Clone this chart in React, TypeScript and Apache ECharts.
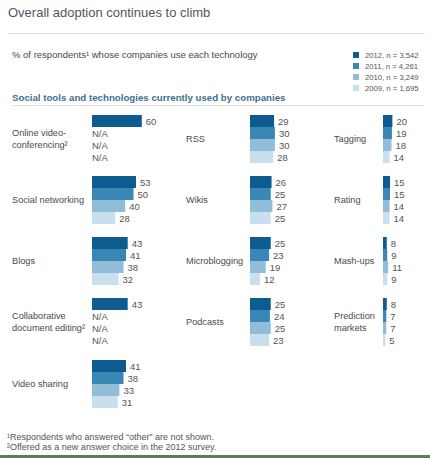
import React, { useEffect, useRef } from "react";
import * as echarts from "echarts";

// Technologies, in reading order (column by column)
const technologies = [
  "Online video-\nconferencing²",
  "Social networking",
  "Blogs",
  "Collaborative\ndocument editing²",
  "Video sharing",
  "RSS",
  "Wikis",
  "Microblogging",
  "Podcasts",
  "Tagging",
  "Rating",
  "Mash-ups",
  "Prediction\nmarkets",
];

const years = ["2012", "2011", "2010", "2009"];
const sampleSizes = ["3,542", "4,261", "3,249", "1,695"];

// % of respondents whose companies use each technology (null = not asked)
const share2012 = [60, 53, 43, 43, 41, 29, 26, 25, 25, 20, 15, 8, 8];
const share2011 = [null, 50, 41, null, 38, 30, 25, 23, 24, 19, 15, 9, 7];
const share2010 = [null, 40, 38, null, 33, 30, 27, 19, 25, 18, 14, 11, 7];
const share2009 = [null, 28, 32, null, 31, 28, 25, 12, 23, 14, 14, 9, 5];

const yearValues = [share2012, share2011, share2010, share2009];
const yearColors = ["#0e5b8f", "#3a86b4", "#92bdd8", "#c8e0ee"];

// panel layout
const columnCounts = [5, 4, 4];
const labelX = [12, 186, 334];
const barX = [92, 250, 383];
const rowTop = [115, 176, 237, 298, 360];
const panelHeight = 48;
const panelWidth = 83; // spans 0..100 %

const FONT = "'Liberation Sans', Arial, Helvetica, sans-serif";
const TEXT = "#555555";

function panelPosition(i: number) {
  let col = 0;
  let row = i;
  while (row >= columnCounts[col]) {
    row -= columnCounts[col];
    col += 1;
  }
  return { col, row };
}

export default function App() {
  const ref = useRef<HTMLDivElement>(null);

  useEffect(() => {
    if (!ref.current) return;
    const chart = echarts.init(ref.current, undefined, { renderer: "svg" });

    const grids: any[] = [];
    const xAxes: any[] = [];
    const yAxes: any[] = [];
    const series: any[] = [];
    const labels: any[] = [];

    technologies.forEach((tech, i) => {
      const { col, row } = panelPosition(i);
      grids.push({
        left: barX[col],
        top: rowTop[row],
        width: panelWidth,
        height: panelHeight,
        containLabel: false,
      });
      xAxes.push({ type: "value", gridIndex: i, min: 0, max: 100, show: false });
      yAxes.push({
        type: "category",
        gridIndex: i,
        data: [tech],
        inverse: true,
        show: false,
      });
      years.forEach((year, k) => {
        const v = yearValues[k][i];
        const missing = v === null || v === undefined;
        series.push({
          type: "bar",
          name: `${year}, n = ${sampleSizes[k]}`,
          xAxisIndex: i,
          yAxisIndex: i,
          barGap: "0%",
          barCategoryGap: "0%",
          itemStyle: { color: yearColors[k] },
          data: [
            {
              value: missing ? 0 : v,
              label: {
                show: true,
                position: "right",
                distance: missing ? 0 : 4,
                formatter: missing ? "N/A" : "{c}",
                fontFamily: FONT,
                fontSize: missing ? 9.5 : 9.5,
                color: TEXT,
              },
            },
          ],
        });
      });
      labels.push({
        type: "text",
        x: labelX[col],
        y: rowTop[row] + panelHeight / 2,
        style: {
          text: tech,
          font: `9.2px ${FONT}`,
          fill: "#4a4a4a",
          verticalAlign: "middle",
          lineHeight: 12,
        },
      });
    });

    chart.setOption({
      animation: false,
      backgroundColor: "#ffffff",
      grid: grids,
      xAxis: xAxes,
      yAxis: yAxes,
      series,
      legend: {
        orient: "vertical",
        left: 353,
        top: 51,
        icon: "rect",
        itemWidth: 6,
        itemHeight: 6,
        itemGap: 3,
        padding: 0,
        selectedMode: false,
        data: years.map((y, k) => `${y}, n = ${sampleSizes[k]}`),
        textStyle: { fontFamily: FONT, fontSize: 7.7, color: TEXT, padding: [0, 0, 0, 1] },
      },
      graphic: [
        {
          type: "text",
          x: 8,
          y: 12,
          style: {
            text: "Overall adoption continues to climb",
            font: `13px ${FONT}`,
            fill: "#555555",
            verticalAlign: "middle",
          },
        },
        { type: "rect", shape: { x: 8, y: 33, width: 417, height: 1 }, style: { fill: "#e2e2e2" } },
        {
          type: "text",
          x: 12,
          y: 54,
          style: {
            text: "% of respondents¹ whose companies use each technology",
            font: `9.5px ${FONT}`,
            fill: "#4a4a4a",
            verticalAlign: "middle",
          },
        },
        {
          type: "text",
          x: 12,
          y: 97,
          style: {
            text: "Social tools and technologies currently used by companies",
            font: `bold 9.7px ${FONT}`,
            fill: "#3e6f8f",
            verticalAlign: "middle",
          },
        },
        { type: "rect", shape: { x: 12, y: 105, width: 412, height: 1 }, style: { fill: "#e2e2e2" } },
        ...labels,
        {
          type: "text",
          x: 7,
          y: 437,
          style: {
            text: "¹Respondents who answered “other” are not shown.",
            font: `9px ${FONT}`,
            fill: TEXT,
            verticalAlign: "middle",
          },
        },
        {
          type: "text",
          x: 7,
          y: 447,
          style: {
            text: "²Offered as a new answer choice in the 2012 survey.",
            font: `9px ${FONT}`,
            fill: TEXT,
            verticalAlign: "middle",
          },
        },
        { type: "rect", shape: { x: 0, y: 455, width: 430, height: 3 }, style: { fill: "#5f7d52" } },
      ],
    });

    return () => chart.dispose();
  }, []);

  return (
    <div
      ref={ref}
      style={{ position: "absolute", left: 0, top: 0, width: 430, height: 458, background: "#fff" }}
    />
  );
}
